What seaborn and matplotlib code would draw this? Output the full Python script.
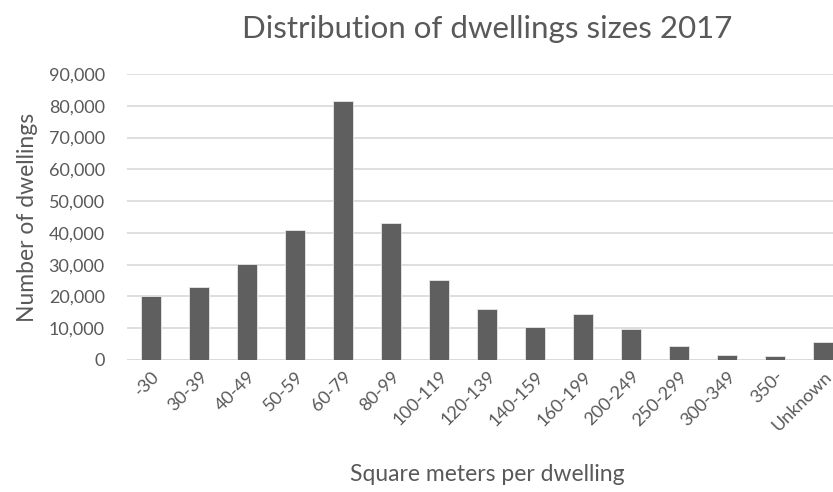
import matplotlib
matplotlib.use("Agg")
import matplotlib.pyplot as plt
import seaborn as sns
import pandas as pd
from matplotlib.ticker import FuncFormatter

# Dwelling size classes (square meters) and number of dwellings, 2017
size_classes = ["-30", "30-39", "40-49", "50-59", "60-79", "80-99", "100-119",
                "120-139", "140-159", "160-199", "200-249", "250-299",
                "300-349", "350-", "Unknown"]
dwellings = [20100, 23000, 30300, 40800, 81600, 43000, 25300,
             16000, 10300, 14500, 9800, 4300, 1500, 1300, 5700]
y_ticks = [0, 10000, 20000, 30000, 40000, 50000, 60000, 70000, 80000, 90000]

sns.set_theme(style="white")
plt.rcParams["font.family"] = ["Lato", "DejaVu Sans"]

text_color = "#595959"
bar_color = "#5f5f5f"
grid_color = "#d9d9d9"

df = pd.DataFrame({"size": size_classes, "count": dwellings})

fig = plt.figure(figsize=(8.33, 4.92), dpi=100)
W, H = 833, 492
left, right, top, bottom = 127, 847, 74, 360
ax = fig.add_axes([left / W, (H - bottom) / H, (right - left) / W, (bottom - top) / H])

sns.barplot(data=df, x="size", y="count", color=bar_color, width=0.41,
            saturation=1, edgecolor="#e8e8e8", linewidth=0.6, ax=ax, zorder=3)

ax.set_ylim(0, 90000)
ax.set_xlim(-0.5, len(size_classes) - 0.5)
ax.set_yticks(y_ticks)
ax.yaxis.set_major_formatter(FuncFormatter(lambda v, _: f"{int(v):,}"))
ax.grid(axis="y", color=grid_color, linewidth=1.2, zorder=0)
ax.grid(axis="x", visible=False)
for side in ["left", "right", "top", "bottom"]:
    ax.spines[side].set_visible(False)
ax.axhline(0, color=grid_color, linewidth=1.2, zorder=2)

ax.tick_params(axis="y", length=0, pad=16, labelsize=13, labelcolor=text_color)
ax.tick_params(axis="x", length=0, pad=6, labelsize=13, labelcolor=text_color)
plt.setp(ax.get_xticklabels(), rotation=45, ha="right", rotation_mode="anchor")

ax.set_xlabel("Square meters per dwelling", fontsize=16.5, color=text_color, labelpad=22)
ax.set_ylabel("Number of dwellings", fontsize=16.5, color=text_color, labelpad=8)
ax.set_title("Distribution of dwellings sizes 2017", fontsize=22.5,
             color=text_color, pad=26)

fig.savefig("out.png", dpi=100, facecolor="white")
